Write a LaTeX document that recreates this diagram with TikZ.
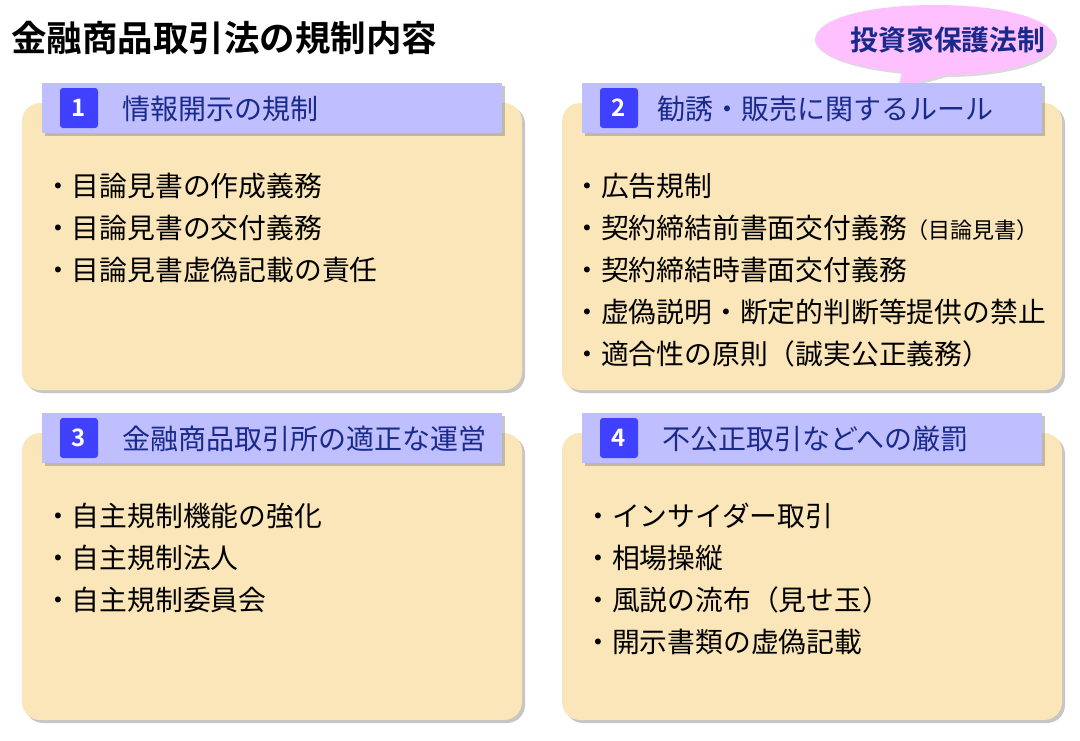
\documentclass[tikz,border=0pt]{standalone}
\usepackage{fontspec}
\setmainfont{Noto Sans CJK JP}[BoldFont={Noto Sans CJK JP Bold}]
\usetikzlibrary{shadows,shapes.geometric}
\definecolor{boxfill}{HTML}{FAE6B8}
\definecolor{hdrfill}{HTML}{BFBFFF}
\definecolor{numfill}{HTML}{4040FF}
\definecolor{hdrtext}{HTML}{1A2A8A}
\definecolor{pinkfill}{HTML}{FFC0FF}
\tikzset{
 panel/.style={fill=boxfill,rounded corners=18pt,drop shadow={shadow xshift=3pt,shadow yshift=-3pt,opacity=0.45}},
 hdr/.style={fill=hdrfill,drop shadow={shadow xshift=3pt,shadow yshift=-3pt,opacity=0.45}},
 numbox/.style={fill=numfill,rounded corners=3pt,minimum width=38pt,minimum height=40pt,text=white,font=\fontsize{24}{24}\selectfont\bfseries,inner sep=0pt},
 hdrlabel/.style={anchor=west,text=hdrtext,font=\fontsize{28}{28}\selectfont,inner sep=0pt},
 item/.style={anchor=west,font=\fontsize{27.8}{27.8}\selectfont,inner sep=0pt}
}
\begin{document}
\begin{tikzpicture}[x=1pt,y=-1pt]
\useasboundingbox (0,0) rectangle (1080,740);
\node[anchor=west,inner sep=0pt,font=\fontsize{35.5}{35.5}\selectfont\bfseries] (title) at (11,38) {金融商品取引法の規制内容};
% callout
\fill[pinkfill,drop shadow={shadow xshift=2pt,shadow yshift=-2pt,opacity=0.3}] (898,88) -- (902,72) .. controls (850,67) and (815,54) .. (815,40) .. controls (815,18) and (870,5) .. (935,5) .. controls (1000,5) and (1055,18) .. (1055,40) .. controls (1055,62) and (1000,75) .. (945,75) -- cycle;
\node[inner sep=0pt,text=hdrtext,font=\fontsize{27.8}{27.8}\selectfont\bfseries] (callout) at (948,40) {投資家保護法制};
% panels
\foreach \px/\py in {22/103,562/103,22/433,562/433}{
 \path[panel] (\px,\py) rectangle ++(500,287);
 \path[hdr] (\px+20,\py-20) rectangle ++(460,50);
}
\node[numbox] (n1) at (79,108) {1};
\node[hdrlabel] (h1) at (122,109) {情報開示の規制};
\node[numbox] (n2) at (619,108) {2};
\node[hdrlabel] (h2) at (657,109) {勧誘・販売に関するルール};
\node[numbox] (n3) at (79,438) {3};
\node[hdrlabel] (h3) at (122,439) {金融商品取引所の適正な運営};
\node[numbox] (n4) at (619,438) {4};
\node[hdrlabel] (h4) at (662,439) {不公正取引などへの厳罰};
% items
\node[item] (a1) at (44,186) {・目論見書の作成義務};
\node[item] (a2) at (44,228) {・目論見書の交付義務};
\node[item] (a3) at (44,270) {・目論見書虚偽記載の責任};
\node[item] (b1) at (573,186) {・広告規制};
\node[item] (b2) at (573,228) {・契約締結前書面交付義務{\fontsize{22}{22}\selectfont（目論見書）}};
\node[item] (b3) at (573,270) {・契約締結時書面交付義務};
\node[item] (b4) at (573,312) {・虚偽説明・断定的判断等提供の禁止};
\node[item] (b5) at (573,354) {・適合性の原則（誠実公正義務）};
\node[item] (c1) at (44,516) {・自主規制機能の強化};
\node[item] (c2) at (44,558) {・自主規制法人};
\node[item] (c3) at (44,600) {・自主規制委員会};
\node[item] (d1) at (584,516) {・インサイダー取引};
\node[item] (d2) at (584,558) {・相場操縦};
\node[item] (d3) at (584,600) {・風説の流布（見せ玉）};
\node[item] (d4) at (584,642) {・開示書類の虚偽記載};
\end{tikzpicture}
\end{document}
